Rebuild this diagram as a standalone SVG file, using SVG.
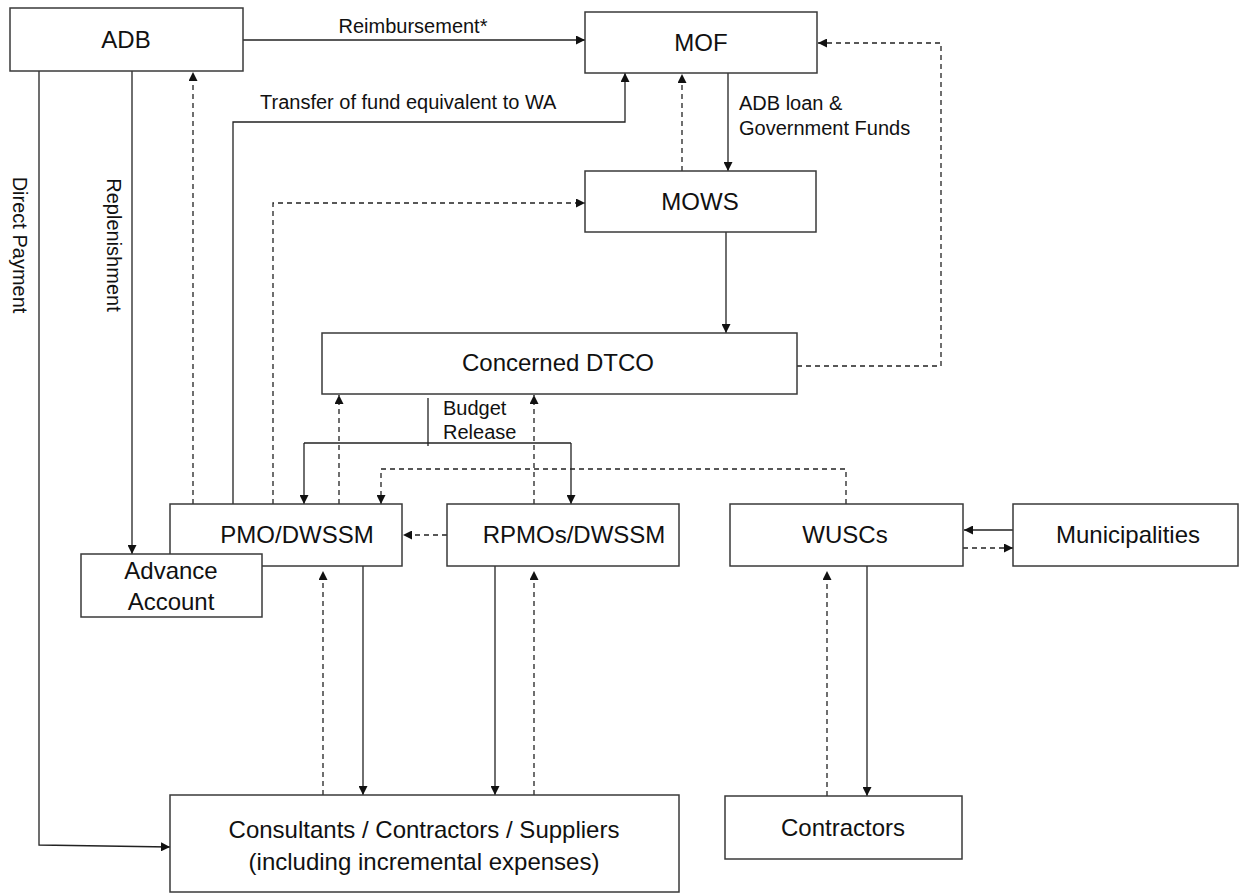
<svg xmlns="http://www.w3.org/2000/svg" width="1241" height="895" viewBox="0 0 1241 895">
<style>
.box{fill:#fff;stroke:#3a3a3a;stroke-width:1.5}
.lbl{font-family:"Liberation Sans",Arial,sans-serif;font-size:24px;fill:#111;text-anchor:middle}
.el{font-family:"Liberation Sans",Arial,sans-serif;font-size:20px;fill:#111}
.s{fill:none;stroke:#222;stroke-width:1.3}
.d{fill:none;stroke:#222;stroke-width:1.3;stroke-dasharray:5,4}
</style>
<defs>
<marker id="ah" viewBox="0 0 10 10" refX="10" refY="5" markerWidth="9" markerHeight="9" markerUnits="userSpaceOnUse" orient="auto">
<path d="M0,0 L10,5 L0,10 z" fill="#111"/>
</marker>
</defs>
<g id="connectors">
<path class="s" d="M243,40 H585" marker-end="url(#ah)"/>
<path class="s" d="M233,504 V122 H625 V73" marker-end="url(#ah)"/>
<path class="s" d="M39,71 V845 L170,847" marker-end="url(#ah)"/>
<path class="s" d="M132,71 V554" marker-end="url(#ah)"/>
<path class="d" d="M193,504 V72" marker-end="url(#ah)"/>
<path class="d" d="M273,504 V203 H585" marker-end="url(#ah)"/>
<path class="s" d="M728,73 V171" marker-end="url(#ah)"/>
<path class="d" d="M682,171 V74" marker-end="url(#ah)"/>
<path class="s" d="M726,232 V333" marker-end="url(#ah)"/>
<path class="d" d="M797,366 H941 V43 H818" marker-end="url(#ah)"/>
<path class="s" d="M428,398 V446"/>
<path class="s" d="M304,443 H571"/>
<path class="s" d="M304,443 V504" marker-end="url(#ah)"/>
<path class="s" d="M571,443 V504" marker-end="url(#ah)"/>
<path class="d" d="M339,504 V395" marker-end="url(#ah)"/>
<path class="d" d="M534,504 V395" marker-end="url(#ah)"/>
<path class="d" d="M846,504 V469 H381 V504" marker-end="url(#ah)"/>
<path class="d" d="M447,535 H403" marker-end="url(#ah)"/>
<path class="s" d="M363,566 V795" marker-end="url(#ah)"/>
<path class="d" d="M323,795 V571" marker-end="url(#ah)"/>
<path class="s" d="M495,566 V795" marker-end="url(#ah)"/>
<path class="d" d="M534,795 V571" marker-end="url(#ah)"/>
<path class="s" d="M1013,530 H964" marker-end="url(#ah)"/>
<path class="d" d="M963,548 H1013" marker-end="url(#ah)"/>
<path class="s" d="M867,566 V796" marker-end="url(#ah)"/>
<path class="d" d="M827,796 V571" marker-end="url(#ah)"/>
</g>
<g id="edge-labels">
<text class="el" x="413" y="33" text-anchor="middle">Reimbursement*</text>
<text class="el" x="260" y="109">Transfer of fund equivalent to WA</text>
<text class="el" x="739" y="110">ADB loan &amp;</text>
<text class="el" x="739" y="135">Government Funds</text>
<text class="el" x="443" y="415">Budget</text>
<text class="el" x="443" y="439">Release</text>
<text class="el" text-anchor="middle" transform="translate(13,245) rotate(90)">Direct Payment</text>
<text class="el" text-anchor="middle" transform="translate(107,245) rotate(90)">Replenishment</text>
</g>
<g id="ADB"><rect class="box" x="10" y="8" width="233" height="63"/><text class="lbl" x="126" y="48">ADB</text></g>
<g id="MOF"><rect class="box" x="585" y="12" width="232" height="61"/><text class="lbl" x="701" y="51">MOF</text></g>
<g id="MOWS"><rect class="box" x="585" y="171" width="231" height="61"/><text class="lbl" x="700" y="210">MOWS</text></g>
<g id="DTCO"><rect class="box" x="322" y="333" width="475" height="61"/><text class="lbl" x="558" y="371">Concerned DTCO</text></g>
<g id="PMO"><rect class="box" x="170" y="504" width="232" height="62"/><text class="lbl" x="297" y="543">PMO/DWSSM</text></g>
<g id="AdvanceAccount"><rect class="box" x="81" y="554" width="181" height="63"/><text class="lbl" x="171" y="579">Advance</text><text class="lbl" x="171" y="610">Account</text></g>
<g id="RPMO"><rect class="box" x="447" y="504" width="232" height="62"/><text class="lbl" x="574" y="543">RPMOs/DWSSM</text></g>
<g id="WUSCs"><rect class="box" x="730" y="504" width="233" height="62"/><text class="lbl" x="845" y="543">WUSCs</text></g>
<g id="Municipalities"><rect class="box" x="1013" y="504" width="225" height="62"/><text class="lbl" x="1128" y="543">Municipalities</text></g>
<g id="Consultants"><rect class="box" x="170" y="795" width="509" height="97"/><text class="lbl" x="424" y="838">Consultants / Contractors / Suppliers</text><text class="lbl" x="424" y="870">(including incremental expenses)</text></g>
<g id="Contractors"><rect class="box" x="725" y="796" width="237" height="63"/><text class="lbl" x="843" y="836">Contractors</text></g>
</svg>
